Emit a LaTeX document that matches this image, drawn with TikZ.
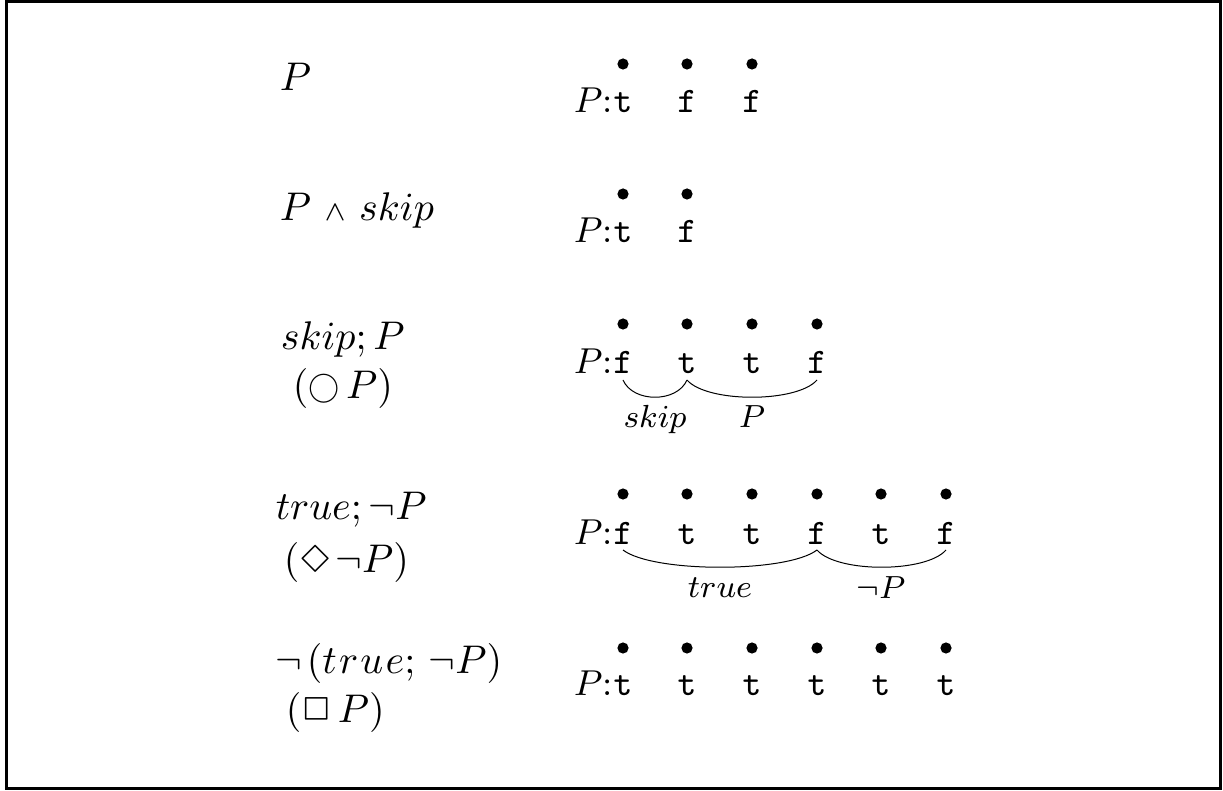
\documentclass[tikz,border=0pt]{standalone}
\usepackage{latexsym}
\usepackage{graphicx}
\newcommand{\smallcirc}{\mathord{\vcenter{\hbox{\scalebox{0.78}{$\bigcirc$}}}}}
\begin{document}
\begin{tikzpicture}[x=0.25pt,y=-0.25pt,
  lab/.style={anchor=base west,inner sep=0pt,font=\fontsize{10}{12}\selectfont},
  pl/.style={anchor=base west,inner sep=0pt,font=\fontsize{9}{11}\selectfont},
  val/.style={anchor=base,inner sep=0pt,font=\fontsize{9}{11}\selectfont\ttfamily},
  dot/.style={circle,fill=black,inner sep=0pt,minimum size=2.8pt},
  brl/.style={anchor=base,inner sep=0pt,font=\fontsize{8}{10}\selectfont},
  brace/.style={line width=0.25pt},
  frame/.style={line width=0.75pt}]
\useasboundingbox (0,0) rectangle (1223,791);
\draw[frame] (6.5,1.7) rectangle (1220.5,788.5);

% left formulas
\node[lab] (l1) at (279,91) {$P$};
\node[lab] (l2) at (279,221) {$P\ {\scriptstyle\wedge}\ skip$};
\node[lab] (l3a) at (280,350) {$skip;P$};
\node[lab] (l3b) at (292,399) {$(\smallcirc\,P)$};
\node[lab] (l4a) at (275,520) {$true;\neg P$};
\node[lab] (l4b) at (283,572) {$(\Diamond\mkern2mu\neg P)$};
\node[lab] (l5a) at (275,673) {$\neg\mkern2mu(t\mkern1mu r\mkern1mu u\mkern1mu e;\mkern3mu\neg P)$};
\node[lab] (l5b) at (285,723) {$(\Box\, P)$};

% row 1
\node[pl] (p1) at (573,113) {$P$:};
\foreach \x/\v [count=\i] in {623/t,687/f,752/f}{
  \node[dot] (d1-\i) at (\x,64) {};
  \node[val] (v1-\i) at (\x,113) {\v};
}
% row 2
\node[pl] (p2) at (573,243) {$P$:};
\foreach \x/\v [count=\i] in {623/t,687/f}{
  \node[dot] (d2-\i) at (\x,194) {};
  \node[val] (v2-\i) at (\x,243) {\v};
}
% row 3
\node[pl] (p3) at (573,374) {$P$:};
\foreach \x/\v [count=\i] in {623/f,687/t,752/t,817/f}{
  \node[dot] (d3-\i) at (\x,324) {};
  \node[val] (v3-\i) at (\x,374) {\v};
}
\coordinate (b3a) at (623,380);
\coordinate (b3b) at (687,380);
\coordinate (b3c) at (817,380);
\draw[brace] (b3a) .. controls +(10,23) and +(-10,23) .. (b3b);
\draw[brace] (b3b) .. controls +(20,23) and +(-20,23) .. (b3c);
\node[brl] (s3a) at (655,428) {$skip$};
\node[brl] (s3b) at (752,428) {$P$};
% row 4
\node[pl] (p4) at (573,544) {$P$:};
\foreach \x/\v [count=\i] in {623/f,687/t,752/t,817/f,881/t,946/f}{
  \node[dot] (d4-\i) at (\x,494) {};
  \node[val] (v4-\i) at (\x,544) {\v};
}
\coordinate (b4a) at (623,550);
\coordinate (b4b) at (817,550);
\coordinate (b4c) at (946,550);
\draw[brace] (b4a) .. controls +(30,23) and +(-30,23) .. (b4b);
\draw[brace] (b4b) .. controls +(20,23) and +(-20,23) .. (b4c);
\node[brl] (s4a) at (720,598) {$true$};
\node[brl] (s4b) at (881,599) {$\neg P$};
% row 5
\node[pl] (p5) at (573,696) {$P$:};
\foreach \x/\v [count=\i] in {623/t,687/t,752/t,817/t,881/t,946/t}{
  \node[dot] (d5-\i) at (\x,648) {};
  \node[val] (v5-\i) at (\x,696) {\v};
}
\end{tikzpicture}
\end{document}
